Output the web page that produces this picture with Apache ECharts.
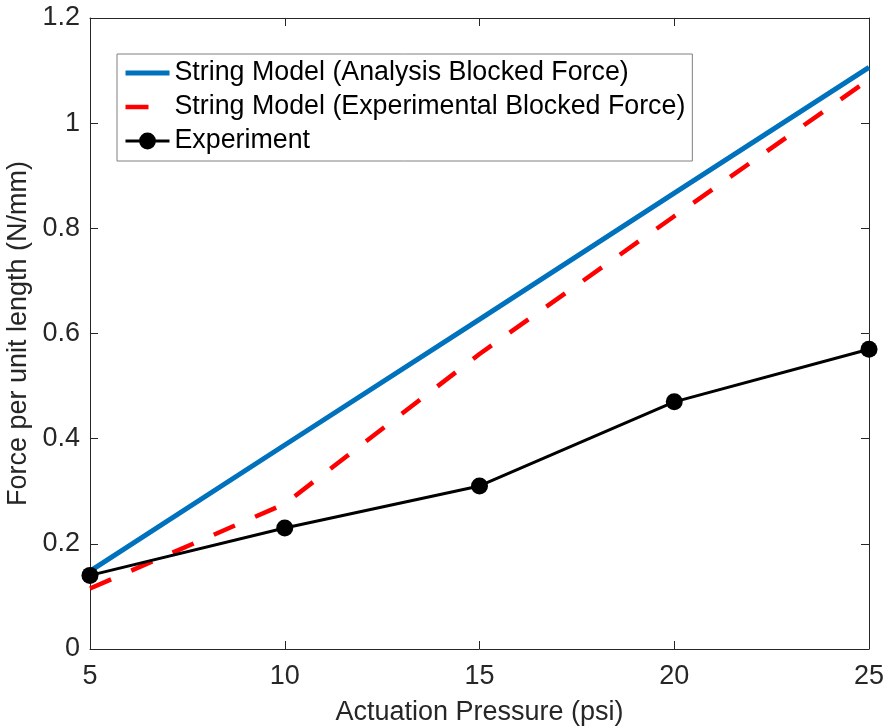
<!DOCTYPE html>
<html>
<head>
<meta charset="utf-8">
<title>Force per unit length vs actuation pressure</title>
<script src="https://cdn.jsdelivr.net/npm/echarts@6/dist/echarts.min.js"></script>
<style>
  html, body { margin: 0; padding: 0; background: #ffffff; }
  #chart { width: 886px; height: 727px; }
</style>
</head>
<body>
<div id="chart"></div>
<script>
// Actuation pressure (psi)
const pressure = [5, 10, 15, 20, 25];
// String model, analysis blocked force (N/mm)
const analysisForce = [0.148, 0.388, 0.627, 0.867, 1.106];
// String model, experimental blocked force (N/mm)
const experimentalModelForce = [0.115, 0.276, 0.561, 0.823, 1.083];
// Measured force (N/mm)
const experimentForce = [0.14, 0.23, 0.31, 0.47, 0.57];

const xTicks = { min: 5, max: 25, interval: 5 };
const yTicks = { min: 0, max: 1.2, interval: 0.2 };

const seriesNames = [
  'String Model (Analysis Blocked Force)',
  'String Model (Experimental Blocked Force)',
  'Experiment'
];

const FONT = "'Liberation Sans', Arial, Helvetica, sans-serif";
const AXIS_COLOR = '#262626';
const BLUE = '#0072BD';
const RED = '#FF0000';
const BLACK = '#000000';
const RED_DASH = [23, 22];

const pairs = (xs, ys) => xs.map((x, i) => [x, ys[i]]);

const boxAxis = (extra) => Object.assign({
  type: 'value',
  axisLine: { show: true, onZero: false, lineStyle: { color: AXIS_COLOR, width: 1 } },
  axisTick: { show: true, inside: true, length: 8, lineStyle: { color: AXIS_COLOR, width: 1 } },
  splitLine: { show: false }
}, extra);

const chart = echarts.init(document.getElementById('chart'), null, { renderer: 'canvas' });

chart.setOption({
  animation: false,
  backgroundColor: '#ffffff',
  textStyle: { fontFamily: FONT },
  grid: { left: 90, right: 17, top: 18, bottom: 78, containLabel: false, outerBoundsMode: 'none' },
  xAxis: [
    boxAxis({
      position: 'bottom',
      min: xTicks.min, max: xTicks.max, interval: xTicks.interval,
      axisLabel: { show: true, color: AXIS_COLOR, fontSize: 27, fontFamily: FONT, margin: 14 },
      name: 'Actuation Pressure (psi)',
      nameLocation: 'middle',
      nameGap: 50,
      nameTextStyle: { color: AXIS_COLOR, fontSize: 27, fontFamily: FONT }
    }),
    boxAxis({
      position: 'top',
      min: xTicks.min, max: xTicks.max, interval: xTicks.interval,
      axisLabel: { show: false }
    })
  ],
  yAxis: [
    boxAxis({
      position: 'left',
      min: yTicks.min, max: yTicks.max, interval: yTicks.interval,
      axisLabel: {
        show: true, color: AXIS_COLOR, fontSize: 27, fontFamily: FONT, margin: 10,
        formatter: (v) => String(Math.round(v * 10) / 10)
      },
      name: 'Force per unit length (N/mm)',
      nameLocation: 'middle',
      nameGap: 49,
      nameTextStyle: { color: AXIS_COLOR, fontSize: 27, fontFamily: FONT }
    }),
    boxAxis({
      position: 'right',
      min: yTicks.min, max: yTicks.max, interval: yTicks.interval,
      axisLabel: { show: false }
    })
  ],
  legend: {
    orient: 'vertical',
    left: 117,
    top: 54,
    padding: [4, 7, 5, 6],
    itemWidth: 44,
    itemHeight: 21,
    itemGap: 4,
    backgroundColor: '#ffffff',
    borderColor: '#808080',
    borderWidth: 1,
    borderRadius: 0,
    selectedMode: false,
    textStyle: { color: BLACK, fontSize: 26.8, fontFamily: FONT, lineHeight: 30 },
    data: [
      // line-only entries: the marker is hidden, only the stroke sample shows
      { name: seriesNames[0], itemStyle: { opacity: 0 }, lineStyle: { width: 5, color: BLUE } },
      { name: seriesNames[1], itemStyle: { opacity: 0 }, lineStyle: { width: 4.5, color: RED, type: RED_DASH } },
      { name: seriesNames[2], lineStyle: { width: 3, color: BLACK } }
    ]
  },
  series: [
    {
      name: seriesNames[0],
      type: 'line',
      data: pairs(pressure, analysisForce),
      symbol: 'none',
      lineStyle: { color: BLUE, width: 5 },
      itemStyle: { color: BLUE },
      z: 2
    },
    {
      name: seriesNames[1],
      type: 'line',
      data: pairs(pressure, experimentalModelForce),
      symbol: 'none',
      lineStyle: { color: RED, width: 4.5, type: RED_DASH, cap: 'butt' },
      itemStyle: { color: RED },
      z: 3
    },
    {
      name: seriesNames[2],
      type: 'line',
      data: pairs(pressure, experimentForce),
      symbol: 'circle',
      symbolSize: 17,
      lineStyle: { color: BLACK, width: 3 },
      itemStyle: { color: BLACK },
      z: 4
    }
  ]
});
</script>
</body>
</html>
